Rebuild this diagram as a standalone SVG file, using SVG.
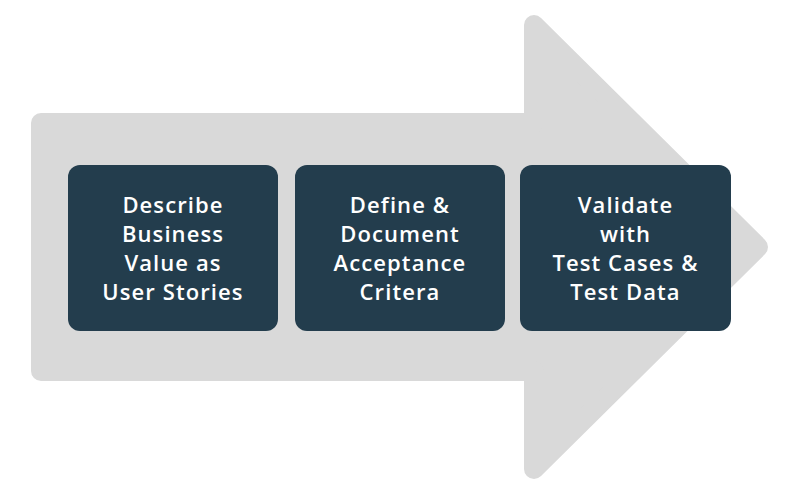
<svg xmlns="http://www.w3.org/2000/svg" width="800" height="495" viewBox="0 0 800 495">
<style>
.box{fill:#233d4d}
.lbl{fill:#ffffff;font-family:"Open Sans","Liberation Sans",sans-serif;font-weight:600;font-size:22px;letter-spacing:1.1px;text-anchor:middle}
</style>
<rect width="800" height="495" fill="#ffffff"/>
<g id="arrow">
<polygon points="41,123 534,123 534,25 758,247 534,469 534,371 41,371" fill="#d9d9d9" stroke="#d9d9d9" stroke-width="20" stroke-linejoin="round"/>
</g>
<g id="connectors"></g>
<g id="node1">
<rect class="box" x="68" y="165" width="210" height="166" rx="12"/>
<text class="lbl"><tspan x="173" y="213">Describe</tspan><tspan x="173" y="242">Business</tspan><tspan x="173" y="271">Value as</tspan><tspan x="173" y="300">User Stories</tspan></text>
</g>
<g id="node2">
<rect class="box" x="295" y="165" width="210" height="166" rx="12"/>
<text class="lbl"><tspan x="400" y="213">Define &amp;</tspan><tspan x="400" y="242">Document</tspan><tspan x="400" y="271">Acceptance</tspan><tspan x="400" y="300">Critera</tspan></text>
</g>
<g id="node3">
<rect class="box" x="520" y="165" width="211" height="166" rx="12"/>
<text class="lbl"><tspan x="625.5" y="213">Validate</tspan><tspan x="625.5" y="242">with</tspan><tspan x="625.5" y="271">Test Cases &amp;</tspan><tspan x="625.5" y="300">Test Data</tspan></text>
</g>
</svg>
